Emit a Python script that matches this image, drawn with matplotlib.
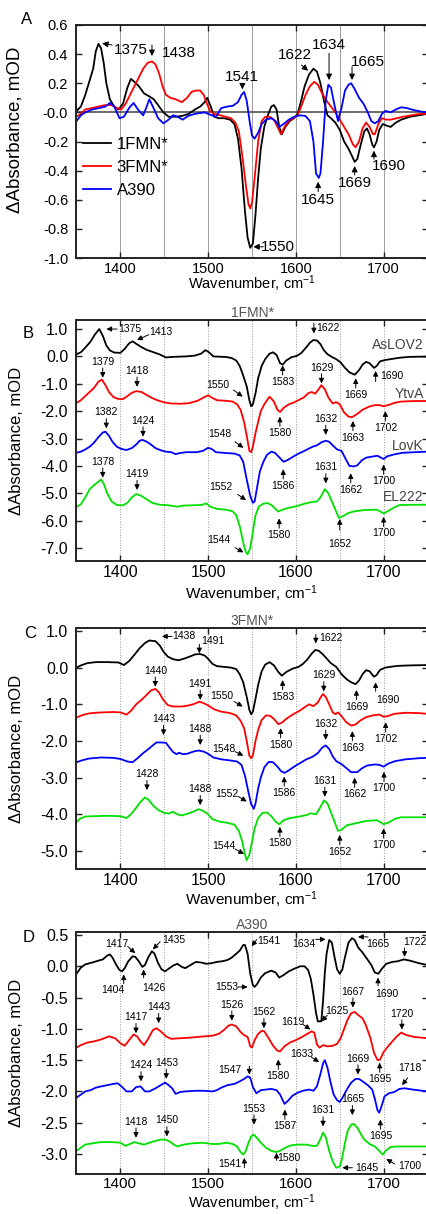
import matplotlib
matplotlib.use("Agg")
import matplotlib.pyplot as plt
import numpy as np
from matplotlib.ticker import FormatStrFormatter

plt.rcParams["font.family"] = ["Liberation Sans", "DejaVu Sans"]
plt.rcParams["axes.unicode_minus"] = False
plt.rcParams["mathtext.default"] = "regular"

# Panel A: AsLOV2 difference spectra of the three intermediates (wavenumber, mOD)
A_1FMN = [(1350, 0.01), (1355, 0.04), (1360, 0.12), (1365, 0.22), (1369, 0.3), (1372, 0.42),
          (1375, 0.47), (1378, 0.44), (1381, 0.34), (1384, 0.2), (1388, 0.09), (1393, 0.04),
          (1398, 0.02), (1403, 0.06), (1408, 0.17), (1412, 0.23), (1416, 0.21), (1421, 0.18),
          (1427, 0.13), (1433, 0.11), (1438, 0.09), (1443, 0.05), (1449, 0.0), (1455, -0.03),
          (1462, -0.03), (1470, -0.025), (1478, -0.01), (1485, 0.02), (1491, 0.04), (1496, 0.07),
          (1499, 0.1), (1503, 0.04), (1507, -0.03), (1512, -0.04), (1518, -0.04), (1525, -0.05),
          (1530, -0.08), (1534, -0.18), (1538, -0.38), (1542, -0.68), (1545, -0.86), (1548, -0.93),
          (1551, -0.9), (1554, -0.7), (1557, -0.45), (1560, -0.25), (1564, -0.1), (1568, -0.02),
          (1572, 0.04), (1575, 0.05), (1578, 0.02), (1581, -0.1), (1584, -0.15), (1588, -0.1),
          (1593, -0.06), (1598, -0.04), (1602, -0.01), (1606, 0.08), (1610, 0.18), (1615, 0.26),
          (1620, 0.3), (1624, 0.28), (1628, 0.2), (1632, 0.08), (1636, -0.02), (1640, -0.04),
          (1645, -0.07), (1650, -0.12), (1655, -0.2), (1660, -0.25), (1664, -0.3), (1667, -0.34),
          (1670, -0.32), (1674, -0.22), (1678, -0.13), (1681, -0.11), (1684, -0.15), (1687, -0.22),
          (1689, -0.24), (1692, -0.2), (1695, -0.12), (1699, -0.08), (1703, -0.09), (1708, -0.1),
          (1714, -0.07), (1720, -0.05), (1730, -0.03), (1740, -0.02), (1750, -0.01)]
A_3FMN = [(1350, -0.03), (1355, -0.01), (1360, 0.02), (1368, 0.03), (1375, 0.04), (1382, 0.05),
          (1390, 0.05), (1396, 0.03), (1401, 0.02), (1406, 0.06), (1411, 0.12), (1416, 0.18),
          (1421, 0.24), (1426, 0.3), (1431, 0.34), (1436, 0.35), (1440, 0.33), (1444, 0.27),
          (1448, 0.18), (1452, 0.12), (1457, 0.1), (1463, 0.09), (1470, 0.07), (1476, 0.1),
          (1481, 0.14), (1486, 0.15), (1491, 0.15), (1495, 0.12), (1498, 0.07), (1502, 0.01),
          (1507, -0.01), (1514, -0.02), (1520, -0.03), (1526, -0.04), (1531, -0.07), (1535, -0.13),
          (1539, -0.3), (1543, -0.5), (1546, -0.63), (1548, -0.66), (1550, -0.62), (1553, -0.45),
          (1557, -0.2), (1561, -0.06), (1565, -0.03), (1570, -0.03), (1575, -0.05), (1579, -0.1),
          (1583, -0.15), (1587, -0.1), (1592, -0.06), (1597, -0.04), (1602, -0.02), (1606, 0.04),
          (1611, 0.12), (1616, 0.18), (1621, 0.21), (1625, 0.19), (1630, 0.13), (1635, 0.08),
          (1640, 0.04), (1645, 0.0), (1650, -0.05), (1655, -0.1), (1660, -0.15), (1665, -0.22),
          (1668, -0.24), (1672, -0.2), (1676, -0.11), (1680, -0.07), (1684, -0.1), (1688, -0.15),
          (1690, -0.15), (1694, -0.08), (1698, -0.04), (1703, -0.05), (1708, -0.05), (1715, -0.04),
          (1722, -0.03), (1732, -0.02), (1742, -0.01), (1750, -0.01)]
A_A390 = [(1350, -0.06), (1355, -0.02), (1360, 0.0), (1368, 0.02), (1376, 0.03), (1383, 0.04),
          (1388, 0.065), (1393, 0.04), (1399, -0.04), (1404, -0.03), (1410, 0.03), (1415, 0.065),
          (1420, 0.02), (1426, -0.02), (1430, 0.04), (1433, 0.09), (1437, 0.04), (1443, -0.04),
          (1449, -0.075), (1455, -0.05), (1460, -0.02), (1465, -0.03), (1471, -0.05), (1477, -0.025),
          (1485, -0.01), (1496, 0.0), (1504, -0.02), (1509, -0.03), (1515, 0.03), (1522, 0.04),
          (1528, 0.045), (1534, 0.07), (1538, 0.12), (1541, 0.14), (1544, 0.08), (1547, -0.05),
          (1550, -0.16), (1553, -0.18), (1557, -0.14), (1561, -0.08), (1566, -0.05), (1572, -0.04),
          (1577, -0.06), (1581, -0.1), (1586, -0.08), (1592, -0.05), (1598, -0.03), (1605, -0.02),
          (1611, -0.025), (1616, -0.06), (1620, -0.2), (1623, -0.42), (1626, -0.45), (1628, -0.42),
          (1631, -0.2), (1634, 0.08), (1637, 0.19), (1640, 0.17), (1644, 0.05), (1648, -0.06),
          (1652, 0.03), (1656, 0.15), (1660, 0.19), (1663, 0.2), (1667, 0.16), (1672, 0.1),
          (1677, 0.06), (1682, 0.0), (1686, -0.06), (1690, -0.075), (1694, -0.06), (1698, -0.01),
          (1702, 0.01), (1708, 0.0), (1714, 0.02), (1720, 0.035), (1726, 0.03), (1735, 0.015),
          (1743, 0.005), (1750, 0.0)]

# Panel B: 1FMN* spectra of four LOV proteins (offset for clarity)
B_ASLOV2 = [(1350, 0.08), (1355, 0.15), (1360, 0.32), (1366, 0.54), (1371, 0.8), (1376, 1.0),
            (1380, 0.75), (1384, 0.4), (1388, 0.22), (1393, 0.14), (1400, 0.13), (1405, 0.28),
            (1410, 0.48), (1414, 0.55), (1418, 0.46), (1424, 0.34), (1430, 0.24), (1438, 0.15),
            (1445, 0.07), (1452, -0.04), (1458, -0.02), (1466, -0.01), (1475, 0.0), (1485, 0.03),
            (1492, 0.1), (1497, 0.23), (1501, 0.15), (1506, 0.0), (1512, -0.01), (1520, -0.02),
            (1527, -0.06), (1532, -0.15), (1536, -0.35), (1540, -0.7), (1544, -1.1), (1547, -1.6),
            (1549, -1.82), (1551, -1.75), (1554, -1.35), (1557, -0.8), (1561, -0.35), (1565, -0.1),
            (1570, 0.1), (1574, 0.15), (1578, 0.05), (1582, -0.25), (1585, -0.3), (1589, -0.15),
            (1595, -0.03), (1601, 0.02), (1606, 0.12), (1611, 0.3), (1616, 0.5), (1620, 0.6),
            (1624, 0.58), (1628, 0.45), (1632, 0.22), (1636, 0.08), (1641, -0.02), (1646, -0.1),
            (1651, -0.22), (1656, -0.42), (1661, -0.58), (1667, -0.67), (1672, -0.5), (1676, -0.3),
            (1680, -0.2), (1684, -0.25), (1689, -0.42), (1692, -0.35), (1696, -0.18), (1702, -0.13),
            (1710, -0.09), (1718, -0.05), (1728, -0.02), (1740, -0.01), (1750, -0.01)]
B_YTVA = [(1350, -1.7), (1355, -1.6), (1360, -1.45), (1365, -1.3), (1370, -1.15), (1375, -0.92),
          (1379, -0.85), (1383, -1.05), (1387, -1.3), (1392, -1.48), (1397, -1.55), (1403, -1.56),
          (1408, -1.45), (1413, -1.33), (1418, -1.27), (1424, -1.3), (1430, -1.41), (1436, -1.52),
          (1442, -1.6), (1450, -1.68), (1458, -1.72), (1468, -1.73), (1478, -1.71), (1488, -1.62),
          (1495, -1.5), (1500, -1.42), (1505, -1.52), (1510, -1.6), (1520, -1.62), (1528, -1.65),
          (1533, -1.75), (1537, -1.95), (1541, -2.4), (1544, -2.9), (1547, -3.45), (1549, -3.5),
          (1551, -3.3), (1554, -2.8), (1557, -2.39), (1560, -2.0), (1564, -1.75), (1570, -1.47),
          (1575, -1.65), (1579, -1.95), (1582, -2.03), (1586, -1.88), (1592, -1.75), (1598, -1.68),
          (1604, -1.58), (1609, -1.5), (1614, -1.35), (1618, -1.3), (1622, -1.36), (1626, -1.2),
          (1629, -1.05), (1633, -1.2), (1637, -1.5), (1642, -1.72), (1646, -1.67), (1650, -1.75),
          (1655, -2.05), (1660, -2.2), (1664, -2.22), (1670, -2.1), (1676, -1.95), (1683, -1.84),
          (1690, -1.78), (1695, -1.78), (1700, -1.82), (1705, -1.78), (1712, -1.7), (1720, -1.65),
          (1735, -1.63), (1750, -1.63)]
B_LOVK = [(1350, -3.52), (1355, -3.48), (1360, -3.4), (1365, -3.3), (1370, -3.15), (1375, -2.95),
          (1380, -2.78), (1383, -2.75), (1387, -2.9), (1391, -3.12), (1396, -3.3), (1401, -3.38),
          (1407, -3.42), (1413, -3.35), (1418, -3.22), (1422, -3.08), (1425, -3.05), (1429, -3.1),
          (1434, -3.2), (1440, -3.35), (1446, -3.43), (1452, -3.48), (1458, -3.5), (1463, -3.57),
          (1468, -3.53), (1475, -3.5), (1487, -3.5), (1494, -3.45), (1500, -3.34), (1504, -3.38),
          (1509, -3.5), (1520, -3.53), (1530, -3.55), (1536, -3.62), (1540, -3.85), (1544, -4.5),
          (1548, -5.1), (1551, -5.35), (1553, -5.3), (1556, -4.75), (1559, -4.2), (1563, -3.85),
          (1567, -3.6), (1572, -3.48), (1576, -3.52), (1580, -3.65), (1586, -3.85), (1591, -3.78),
          (1597, -3.66), (1603, -3.55), (1608, -3.48), (1614, -3.38), (1619, -3.3), (1624, -3.25),
          (1629, -3.14), (1634, -3.08), (1638, -3.12), (1642, -3.25), (1647, -3.4), (1652, -3.45),
          (1656, -3.7), (1661, -4.0), (1666, -4.02), (1670, -3.98), (1675, -3.8), (1680, -3.7),
          (1687, -3.66), (1693, -3.63), (1697, -3.7), (1700, -3.75), (1704, -3.65), (1712, -3.58),
          (1722, -3.52), (1735, -3.5), (1750, -3.48)]
B_EL222 = [(1350, -5.5), (1355, -5.4), (1360, -5.15), (1365, -4.85), (1370, -4.7), (1374, -4.6),
           (1378, -4.5), (1381, -4.65), (1385, -5.0), (1390, -5.3), (1396, -5.43), (1403, -5.44),
           (1408, -5.35), (1413, -5.15), (1418, -5.03), (1423, -5.08), (1429, -5.2), (1436, -5.35),
           (1445, -5.42), (1455, -5.44), (1465, -5.49), (1472, -5.45), (1482, -5.44), (1492, -5.43),
           (1498, -5.37), (1503, -5.5), (1510, -5.57), (1520, -5.6), (1528, -5.66), (1532, -5.8),
           (1536, -6.2), (1540, -6.8), (1543, -7.15), (1545, -7.23), (1548, -7.0), (1551, -6.4),
           (1554, -5.8), (1558, -5.48), (1563, -5.38), (1568, -5.36), (1573, -5.45), (1577, -5.58),
           (1580, -5.67), (1585, -5.6), (1592, -5.53), (1600, -5.48), (1610, -5.38), (1618, -5.32),
           (1624, -5.3), (1628, -5.15), (1633, -4.85), (1637, -5.0), (1641, -5.3), (1645, -5.6),
           (1649, -5.9), (1653, -5.85), (1660, -5.72), (1668, -5.65), (1680, -5.61), (1692, -5.6),
           (1697, -5.68), (1700, -5.74), (1705, -5.65), (1712, -5.52), (1718, -5.43), (1735, -5.42),
           (1750, -5.42)]

# Panel C: 3FMN* spectra
C_ASLOV2 = [(1350, 0.0), (1355, 0.06), (1362, 0.12), (1372, 0.15), (1385, 0.15), (1398, 0.14),
            (1404, 0.07), (1410, 0.18), (1416, 0.35), (1422, 0.53), (1428, 0.67), (1433, 0.74),
            (1440, 0.72), (1445, 0.6), (1449, 0.44), (1454, 0.3), (1460, 0.23), (1466, 0.2),
            (1472, 0.24), (1479, 0.3), (1485, 0.36), (1491, 0.37), (1496, 0.33), (1500, 0.24),
            (1505, 0.1), (1510, 0.04), (1518, 0.02), (1526, 0.0), (1532, -0.04), (1536, -0.18),
            (1540, -0.4), (1544, -0.8), (1547, -1.15), (1549, -1.27), (1551, -1.2), (1554, -0.85),
            (1557, -0.47), (1561, -0.1), (1565, 0.08), (1570, 0.15), (1575, 0.06), (1580, -0.12),
            (1584, -0.22), (1589, -0.12), (1596, -0.03), (1603, 0.02), (1608, 0.1), (1613, 0.22),
            (1618, 0.38), (1622, 0.48), (1626, 0.46), (1630, 0.38), (1635, 0.25), (1640, 0.12),
            (1646, 0.02), (1652, -0.18), (1658, -0.32), (1663, -0.4), (1668, -0.45), (1672, -0.35),
            (1676, -0.18), (1680, -0.07), (1684, -0.1), (1689, -0.25), (1692, -0.2), (1696, -0.06),
            (1702, 0.0), (1710, 0.03), (1718, 0.05), (1730, 0.06), (1750, 0.07)]
C_YTVA = [(1350, -1.36), (1356, -1.3), (1364, -1.25), (1372, -1.23), (1380, -1.22), (1392, -1.21),
          (1400, -1.22), (1407, -1.28), (1412, -1.18), (1418, -1.0), (1424, -0.88), (1430, -0.74),
          (1435, -0.62), (1440, -0.58), (1444, -0.68), (1449, -0.88), (1454, -1.02), (1460, -1.06),
          (1470, -1.06), (1478, -1.03), (1484, -0.99), (1490, -0.93), (1495, -0.97), (1500, -1.03),
          (1507, -1.14), (1515, -1.2), (1525, -1.24), (1532, -1.3), (1537, -1.45), (1541, -1.65),
          (1544, -2.0), (1547, -2.4), (1549, -2.47), (1551, -2.4), (1554, -2.0), (1557, -1.7),
          (1561, -1.43), (1566, -1.3), (1571, -1.32), (1575, -1.4), (1580, -1.54), (1584, -1.5),
          (1590, -1.38), (1597, -1.27), (1604, -1.18), (1610, -1.08), (1615, -1.0), (1620, -1.05),
          (1625, -0.95), (1629, -0.78), (1631, -0.72), (1634, -0.8), (1638, -1.0), (1642, -1.22),
          (1645, -1.27), (1648, -1.22), (1652, -1.32), (1657, -1.48), (1663, -1.58), (1668, -1.55),
          (1673, -1.45), (1680, -1.35), (1688, -1.3), (1695, -1.28), (1700, -1.34), (1705, -1.32),
          (1712, -1.26), (1725, -1.23), (1740, -1.24), (1750, -1.26)]
C_LOVK = [(1350, -2.58), (1356, -2.53), (1364, -2.48), (1378, -2.45), (1392, -2.46), (1400, -2.49),
          (1408, -2.56), (1414, -2.58), (1420, -2.46), (1426, -2.33), (1432, -2.22), (1437, -2.12),
          (1441, -2.04), (1446, -2.04), (1452, -2.05), (1456, -2.18), (1460, -2.3), (1464, -2.36),
          (1467, -2.32), (1471, -2.36), (1476, -2.35), (1483, -2.29), (1489, -2.26), (1495, -2.29),
          (1500, -2.35), (1506, -2.45), (1515, -2.5), (1525, -2.53), (1533, -2.56), (1538, -2.65),
          (1542, -2.95), (1546, -3.4), (1549, -3.72), (1552, -3.85), (1554, -3.7), (1557, -3.3),
          (1560, -3.0), (1564, -2.72), (1569, -2.57), (1574, -2.58), (1579, -2.7), (1583, -2.82),
          (1587, -2.87), (1592, -2.8), (1598, -2.7), (1605, -2.6), (1612, -2.5), (1619, -2.43),
          (1625, -2.33), (1630, -2.18), (1634, -2.12), (1638, -2.22), (1642, -2.42), (1646, -2.55),
          (1652, -2.63), (1658, -2.75), (1663, -2.85), (1670, -2.85), (1675, -2.75), (1681, -2.67),
          (1690, -2.64), (1695, -2.65), (1700, -2.7), (1705, -2.62), (1713, -2.55), (1725, -2.5),
          (1740, -2.47), (1750, -2.46)]
C_EL222 = [(1350, -4.22), (1354, -4.12), (1360, -4.06), (1370, -4.05), (1385, -4.04), (1400, -4.05),
           (1407, -4.1), (1412, -4.0), (1418, -3.82), (1423, -3.66), (1428, -3.54), (1432, -3.6),
           (1437, -3.75), (1443, -3.88), (1450, -3.96), (1455, -3.98), (1460, -3.93), (1465, -4.0),
           (1470, -4.03), (1477, -3.98), (1484, -3.92), (1489, -3.86), (1494, -3.9), (1499, -3.98),
           (1505, -4.13), (1513, -4.2), (1522, -4.23), (1530, -4.28), (1535, -4.45), (1539, -4.75),
           (1542, -5.1), (1544, -5.25), (1547, -5.1), (1550, -4.75), (1553, -4.38), (1557, -4.1),
           (1562, -3.96), (1567, -3.95), (1572, -4.05), (1577, -4.2), (1581, -4.27), (1586, -4.16),
           (1594, -4.1), (1604, -4.06), (1612, -4.02), (1617, -3.97), (1623, -4.0), (1628, -3.8),
           (1632, -3.62), (1636, -3.7), (1640, -3.95), (1644, -4.2), (1648, -4.45), (1652, -4.42),
           (1658, -4.3), (1667, -4.25), (1680, -4.18), (1692, -4.16), (1697, -4.22), (1700, -4.27),
           (1706, -4.22), (1713, -4.12), (1720, -4.08), (1735, -4.08), (1750, -4.08)]

# Panel D: A390 spectra
D_ASLOV2 = [(1350, -0.12), (1355, -0.02), (1360, 0.03), (1368, 0.06), (1375, 0.09), (1380, 0.11),
            (1385, 0.17), (1388, 0.19), (1391, 0.14), (1395, 0.03), (1399, -0.06), (1402, -0.08),
            (1405, -0.03), (1409, 0.08), (1414, 0.16), (1417, 0.15), (1421, 0.08), (1425, -0.01),
            (1428, 0.02), (1432, 0.15), (1436, 0.24), (1439, 0.2), (1443, 0.05), (1447, -0.05),
            (1451, -0.08), (1455, -0.04), (1460, 0.01), (1465, 0.04), (1470, -0.01), (1474, -0.03),
            (1480, 0.02), (1486, 0.07), (1492, 0.06), (1498, 0.04), (1504, 0.05), (1510, 0.07),
            (1516, 0.08), (1522, 0.1), (1527, 0.14), (1532, 0.2), (1536, 0.25), (1540, 0.34),
            (1542, 0.34), (1545, 0.2), (1548, -0.12), (1551, -0.3), (1553, -0.33), (1556, -0.28),
            (1560, -0.18), (1565, -0.11), (1572, -0.07), (1577, -0.1), (1581, -0.18), (1586, -0.14),
            (1592, -0.08), (1598, -0.04), (1605, 0.0), (1610, 0.0), (1614, -0.06), (1617, -0.2),
            (1620, -0.45), (1623, -0.75), (1625, -0.88), (1629, -0.88), (1631, -0.55), (1633, -0.1),
            (1635, 0.2), (1638, 0.42), (1641, 0.38), (1644, 0.15), (1647, -0.05), (1650, -0.12),
            (1653, -0.05), (1656, 0.15), (1660, 0.38), (1664, 0.45), (1667, 0.42), (1671, 0.3),
            (1676, 0.22), (1681, 0.12), (1686, 0.02), (1690, -0.1), (1694, -0.12), (1698, -0.04),
            (1703, 0.04), (1710, 0.07), (1716, 0.08), (1723, 0.11), (1730, 0.09), (1740, 0.05),
            (1750, 0.02)]
D_YTVA = [(1350, -1.3), (1355, -1.26), (1362, -1.22), (1370, -1.2), (1378, -1.17), (1387, -1.12),
          (1394, -1.15), (1400, -1.23), (1405, -1.27), (1410, -1.18), (1415, -1.09), (1419, -1.12),
          (1423, -1.2), (1427, -1.26), (1432, -1.15), (1437, -1.02), (1441, -0.99), (1446, -1.04),
          (1452, -1.12), (1458, -1.16), (1468, -1.15), (1480, -1.14), (1495, -1.12), (1505, -1.11),
          (1512, -1.08), (1518, -1.02), (1523, -0.95), (1527, -0.93), (1532, -0.96), (1537, -1.05),
          (1541, -1.1), (1545, -1.13), (1548, -1.28), (1550, -1.3), (1553, -1.18), (1557, -1.08),
          (1561, -1.03), (1564, -1.04), (1569, -1.15), (1574, -1.27), (1579, -1.35), (1582, -1.36),
          (1587, -1.28), (1593, -1.22), (1600, -1.18), (1607, -1.13), (1613, -1.08), (1618, -1.04),
          (1621, -1.06), (1624, -1.25), (1627, -1.3), (1631, -1.26), (1636, -1.28), (1642, -1.27),
          (1647, -1.24), (1651, -1.15), (1655, -1.0), (1659, -0.85), (1663, -0.75), (1667, -0.73),
          (1671, -0.78), (1676, -0.83), (1680, -0.95), (1685, -1.15), (1689, -1.38), (1693, -1.5),
          (1696, -1.49), (1700, -1.37), (1705, -1.28), (1710, -1.2), (1715, -1.12), (1720, -1.06),
          (1726, -1.1), (1735, -1.13), (1750, -1.15)]
D_LOVK = [(1350, -2.1), (1355, -2.05), (1360, -2.0), (1366, -1.98), (1372, -1.94), (1378, -1.92),
          (1385, -1.9), (1392, -1.88), (1397, -1.87), (1402, -1.93), (1407, -2.0), (1413, -2.0),
          (1418, -1.93), (1423, -1.92), (1428, -2.0), (1433, -2.0), (1440, -1.95), (1446, -1.9),
          (1451, -1.86), (1455, -1.9), (1459, -1.95), (1463, -2.04), (1468, -2.01), (1474, -2.0),
          (1485, -1.99), (1495, -1.99), (1505, -2.0), (1510, -1.98), (1515, -1.94), (1522, -1.9),
          (1530, -1.88), (1536, -1.84), (1541, -1.8), (1545, -1.76), (1548, -1.78), (1551, -1.93),
          (1555, -2.03), (1560, -1.98), (1566, -1.97), (1572, -1.96), (1578, -1.98), (1582, -2.05),
          (1587, -2.2), (1591, -2.15), (1596, -2.07), (1602, -2.02), (1608, -1.99), (1615, -1.97),
          (1620, -1.99), (1624, -1.92), (1628, -1.72), (1631, -1.55), (1633, -1.5), (1636, -1.62),
          (1639, -1.82), (1643, -2.05), (1647, -2.14), (1650, -2.17), (1654, -2.08), (1658, -1.97),
          (1663, -1.86), (1668, -1.8), (1672, -1.8), (1677, -1.85), (1682, -1.9), (1687, -1.97),
          (1690, -2.12), (1693, -2.3), (1695, -2.34), (1698, -2.22), (1701, -2.08), (1706, -2.03),
          (1712, -2.01), (1718, -1.96), (1724, -1.95), (1733, -1.97), (1750, -2.0)]
D_EL222 = [(1350, -2.95), (1355, -2.9), (1360, -2.85), (1368, -2.83), (1378, -2.81), (1390, -2.81),
           (1400, -2.82), (1406, -2.87), (1411, -2.84), (1416, -2.81), (1421, -2.83), (1427, -2.85),
           (1433, -2.82), (1440, -2.79), (1446, -2.77), (1451, -2.77), (1456, -2.8), (1461, -2.85),
           (1465, -2.88), (1472, -2.85), (1482, -2.83), (1494, -2.82), (1504, -2.84), (1512, -2.84),
           (1521, -2.82), (1528, -2.84), (1533, -2.88), (1537, -2.97), (1540, -3.01), (1543, -2.95),
           (1546, -2.82), (1549, -2.72), (1552, -2.69), (1556, -2.75), (1560, -2.82), (1566, -2.9),
           (1572, -2.95), (1578, -2.97), (1583, -2.94), (1588, -2.9), (1595, -2.86), (1603, -2.85),
           (1612, -2.85), (1618, -2.87), (1624, -2.87), (1628, -2.76), (1631, -2.66), (1634, -2.73),
           (1638, -2.95), (1642, -3.12), (1646, -3.22), (1650, -3.2), (1653, -3.05), (1656, -2.82),
           (1659, -2.63), (1663, -2.53), (1666, -2.52), (1670, -2.58), (1674, -2.68), (1678, -2.77),
           (1684, -2.84), (1690, -2.88), (1695, -2.95), (1699, -3.01), (1703, -2.94), (1708, -2.89),
           (1715, -2.88), (1730, -2.88), (1750, -2.88)]

LEGEND_A = ["1FMN*", "3FMN*", "A390"]
PROTEINS = ["AsLOV2", "YtvA", "LovK", "EL222"]
COLORS = ["#000000", "#ff0000", "#0000ff", "#00e000"]
GRID_X = [1400, 1450, 1500, 1550, 1600, 1650, 1700]

# peak labels: (label, wavenumber, value, arrow) ; 'd' = arrow down from above,
# 'u' = arrow up from below, otherwise (tail dx, tail dy, text dx, text dy) in points
MARKS_A = [("1375", 1379.2, 0.474, (7.2, -1.2, 20.4, -4.8)),
           ("1438", 1436, 0.387, (0, 7.9, 19.2, 1.9)),
           ("1541", 1539, 0.158, (0, 4.3, 0, 8.6)),
           ("1622", 1614, 0.286, (-4.8, 4.1, -9.6, 11.3)),
           ("1634", 1637.8, 0.222, (0, 19.2, 0, 25)),
           ("1665", 1664, 0.222, (0, 9.6, 11.5, 13.2)),
           ("1550", 1551.5, -0.923, (7.2, 0, 18, 0)),
           ("1645", 1625.4, -0.476, (0, -7.2, 0, -13.2)),
           ("1669", 1667, -0.368, (0, -6.5, 0, -12)),
           ("1690", 1689, -0.263, (0, -6.2, 10.8, -11))]
MARKS_B = [("1375", 1384.1, 1.0, (7.7, 0, 16.8, 0)),
           ("1413", 1419, 0.6, (8.4, 3.8, 17.3, 6)),
           ("1622", 1620.5, 0.84, (0, 7.2, 10.3, 3.6)),
           ("1583", 1584.9, -0.32, "u"), ("1669", 1668.2, -0.80, "u"),
           ("1690", 1690.9, -0.53, (0, -7.7, 11.3, -3.6)),
           ("1379", 1379.9, -0.78, "d"), ("1418", 1419, -1.11, "d"),
           ("1550", 1539.4, -1.47, (-6.7, 4.8, -18, 8.4)),
           ("1629", 1629.2, -0.99, "d"), ("1580", 1581.8, -2.2, "u"),
           ("1663", 1665, -2.36, "u"), ("1702", 1702, -2.0, "u"),
           ("1382", 1384, -2.63, "d"), ("1424", 1425.8, -2.93, "d"),
           ("1548", 1540.2, -3.34, (-6, 4.3, -16.8, 9.6)),
           ("1632", 1634, -2.87, "d"), ("1586", 1585.6, -4.12, "u"),
           ("1662", 1662.5, -4.27, "u"), ("1700", 1700, -3.95, "u"),
           ("1378", 1379.9, -4.43, "d"), ("1419", 1419, -4.88, "d"),
           ("1552", 1543.2, -5.25, (-6, 4.1, -18.2, 9.6)),
           ("1544", 1540.2, -7.16, (-6, 3.4, -18, 8.9)),
           ("1631", 1634.1, -4.64, "d"), ("1580", 1581, -5.92, "u"),
           ("1652", 1650, -5.94, (0, -8, 0, -18)), ("1700", 1700, -5.86, "u")]
MARKS_C = [("1438", 1447.4, 0.85, (7.2, 0, 15.6, 0.5)),
           ("1491", 1490, 0.39, (0, 6.5, 9.6, 8.9)),
           ("1622", 1622.7, 0.66, (0, 6.5, 10.6, 3.6)),
           ("1583", 1584.9, -0.34, "u"), ("1669", 1669, -0.61, "u"),
           ("1690", 1690.9, -0.4, (0, -6.5, 8.6, -12.7)),
           ("1440", 1439.8, -0.52, "d"), ("1491", 1491, -0.88, "d"),
           ("1550", 1539.4, -1.06, (-6.2, 3.6, -15.1, 7.2)),
           ("1629", 1631.8, -0.65, "d"), ("1580", 1582.6, -1.65, "u"),
           ("1663", 1664.4, -1.73, "u"), ("1702", 1702.3, -1.49, "u"),
           ("1443", 1449.2, -1.84, "d"), ("1488", 1491, -2.11, "d"),
           ("1548", 1540.2, -2.4, (-6, 2.9, -13.9, 4.6)),
           ("1632", 1634, -1.97, "d"), ("1586", 1586.7, -2.97, "u"),
           ("1662", 1667, -3.0, "u"), ("1700", 1700.4, -2.84, "u"),
           ("1428", 1430.3, -3.34, "d"), ("1488", 1491, -3.75, "d"),
           ("1552", 1544, -3.65, (-6, 3.6, -14.4, 5.5)),
           ("1544", 1540.9, -5.08, (-6.5, 3.6, -14.9, 6)),
           ("1631", 1633, -3.52, "d"), ("1580", 1581.8, -4.34, "u"),
           ("1652", 1650, -4.56, "u"), ("1700", 1700, -4.38, "u")]
MARKS_D = [("1417", 1417, 0.21, (-5.5, 4.8, -13.2, 6.5)),
           ("1435", 1437, 0.27, (5.3, 5.5, 14.9, 6.5)),
           ("1404", 1403.8, -0.13, (0, -6.7, -7.7, -11.5)),
           ("1426", 1426.5, -0.05, (0, -6, 7.2, -13.7)),
           ("1553", 1545, -0.33, (-6.7, 0, -15.1, 0)),
           ("1541", 1549.6, 0.32, (3.6, 4.8, 12.5, 3.6)),
           ("1634", 1634, 0.43, (-7.2, 0, -15.8, -3.1)),
           ("1665", 1670.8, 0.47, (7.2, 0, 14.4, -4.8)),
           ("1722", 1723.9, 0.15, (0, 6.5, 7.2, 10.8)),
           ("1690", 1693.6, -0.18, (0, -6, 6, -12)),
           ("1417", 1417.8, -1.07, "d"), ("1443", 1443.6, -0.91, "d"),
           ("1526", 1527, -0.87, "d"), ("1562", 1563.6, -0.99, "d"),
           ("1580", 1580, -1.49, "u"),
           ("1619", 1616.6, -1.01, (-5.3, 3.6, -12.5, 5.5)),
           ("1625", 1629.2, -0.88, (4.1, 4.3, 10.8, 7.2)),
           ("1667", 1665, -0.66, "d"), ("1695", 1695.5, -1.54, "u"),
           ("1720", 1720.8, -1.01, "d"),
           ("1424", 1423.5, -1.84, "d"), ("1453", 1452.3, -1.8, "d"),
           ("1547", 1547, -1.73, (0, 6, -13.9, 3.6)),
           ("1633", 1626.5, -1.53, (-5.5, 3.4, -12.7, 5.8)),
           ("1587", 1587.5, -2.29, "u"), ("1669", 1670.8, -1.73, "d"),
           ("1695", 1696.3, -2.45, "u"),
           ("1718", 1721, -1.9, (4.1, 5.3, 5.3, 12)),
           ("1418", 1417.8, -2.74, "d"), ("1450", 1453, -2.72, "d"),
           ("1541", 1541.3, -3.06, (0, -7.2, -10.3, -4.8)),
           ("1553", 1552.3, -2.53, "d"),
           ("1580", 1578, -2.98, (0, -5.5, 9.1, -4.1)),
           ("1631", 1631, -2.56, "d"), ("1665", 1664.4, -2.38, "d"),
           ("1645", 1653, -3.22, (7.2, 0, 17.3, 0)),
           ("1700", 1703, -3.08, (6, -3.6, 16.8, -4.8))]


def draw(ax, pts, color, label=None):
    wn, y = np.array(pts).T
    return ax.plot(wn, y, color=color, lw=1.3, label=label)[0]


def mark(ax, label, x, y, how, fs, scale):
    if how == "d":
        how = (0, 7, 0, 11.5)
    elif how == "u":
        how = (0, -7, 0, -12)
    tdx, tdy, sdx, sdy = how
    ax.annotate("", xy=(x, y), xytext=(tdx, tdy), textcoords="offset points",
                arrowprops=dict(arrowstyle="-|>,head_length=0.5,head_width=0.25",
                                color="k", lw=0.7, shrinkA=0, shrinkB=0,
                                mutation_scale=scale))
    ax.annotate(label, xy=(x, y), xytext=(sdx, sdy), textcoords="offset points",
                ha="center", va="center", fontsize=fs)


def style(ax, ylim, yticks, fs, grid_ls):
    ax.set_xlim(1350, 1750)
    ax.set_ylim(*ylim)
    ax.set_xticks([1400, 1500, 1600, 1700])
    ax.set_yticks(yticks)
    ax.yaxis.set_major_formatter(FormatStrFormatter("%.1f"))
    ax.tick_params(direction="in", top=True, right=True, length=4, width=1,
                   labelsize=fs, color="#222222")
    ax.tick_params(axis="y", pad=6)
    ax.tick_params(axis="x", pad=3)
    for x in GRID_X:
        ax.axvline(x, color="#9a9a9a", lw=0.7, ls=grid_ls, zorder=0)
    for sp in ax.spines.values():
        sp.set_linewidth(1.4)
        sp.set_color("#222222")


fig = plt.figure(figsize=(4.27, 12.14), dpi=100)
left, width = 76.5 / 427, 351 / 427

# ---- A ----
axA = fig.add_axes([left, 1 - 258 / 1214, width, 233 / 1214])
style(axA, (-1.0, 0.6), np.arange(-1.0, 0.61, 0.2), 10.5, "-")
axA.axhline(0, color="#444444", lw=1.1, zorder=1)
handles = [draw(axA, pts, c, lab) for pts, c, lab in
           zip([A_1FMN, A_3FMN, A_A390], COLORS[:3], LEGEND_A)]
for lab, x, y, how in MARKS_A:
    mark(axA, lab, x, y, how, 11, 7)
axA.legend(handles=handles, loc="upper left", bbox_to_anchor=(0.0, 0.55),
           frameon=False, fontsize=12, handlelength=1.7, handletextpad=0.3,
           labelspacing=0.5, borderaxespad=0)
axA.set_xlabel("Wavenumber, cm$^{-1}$", fontsize=10.5)
axA.set_ylabel("\u0394Absorbance, mOD", fontsize=13.5)
axA.xaxis.set_label_coords(0.5, -0.068)
axA.yaxis.set_label_coords(-0.15, 0.55)

# ---- B, C, D ----
panels = [
    ("B", "1FMN*", [B_ASLOV2, B_YTVA, B_LOVK, B_EL222], MARKS_B, 320, 561,
     (-7.475, 1.33), np.arange(-7.0, 1.01, 1.0), -0.095),
    ("C", "3FMN*", [C_ASLOV2, C_YTVA, C_LOVK, C_EL222], MARKS_C, 628, 869,
     (-5.49, 1.08), np.arange(-5.0, 1.01, 1.0), -0.085),
    ("D", "A390", [D_ASLOV2, D_YTVA, D_LOVK, D_EL222], MARKS_D, 932, 1174,
     (-3.32, 0.548), np.arange(-3.0, 0.51, 0.5), -0.075),
]
axes = {"A": axA}
for letter, title, curves, marks, top, bottom, ylim, yticks, xl_y in panels:
    ax = fig.add_axes([left, 1 - bottom / 1214, width, (bottom - top) / 1214])
    style(ax, ylim, yticks, 11.5, ":")
    for pts, c in zip(curves, COLORS):
        draw(ax, pts, c)
    for lab, x, y, how in marks:
        mark(ax, lab, x, y, how, 7.5, 6)
    ax.set_title(title, fontsize=10, color="#555555", pad=2)
    ax.set_xlabel("Wavenumber, cm$^{-1}$", fontsize=11)
    ax.set_ylabel("\u0394Absorbance, mOD", fontsize=12)
    ax.xaxis.set_label_coords(0.5, xl_y)
    ax.yaxis.set_label_coords(-0.15, 0.5)
    axes[letter] = ax

# bottom panel sits on the figure edge: slightly tighter x tick labels
axes["D"].tick_params(axis="x", labelsize=11, pad=2)
axes["D"].xaxis.label.set_fontsize(10.5)

# protein names in panel B
for name, y in zip(PROTEINS, [0.42, -1.38, -3.27, -5.13]):
    axes["B"].text(1746, y, name, ha="right", va="center", fontsize=10, color="#444444")

for letter, (x, y) in zip("ABCD", [(27, 20), (28, 333), (30, 633), (29, 937)]):
    fig.text(x / 427, 1 - y / 1214, letter, fontsize=12, ha="center", va="center")

fig.savefig("out.png", dpi=100)
